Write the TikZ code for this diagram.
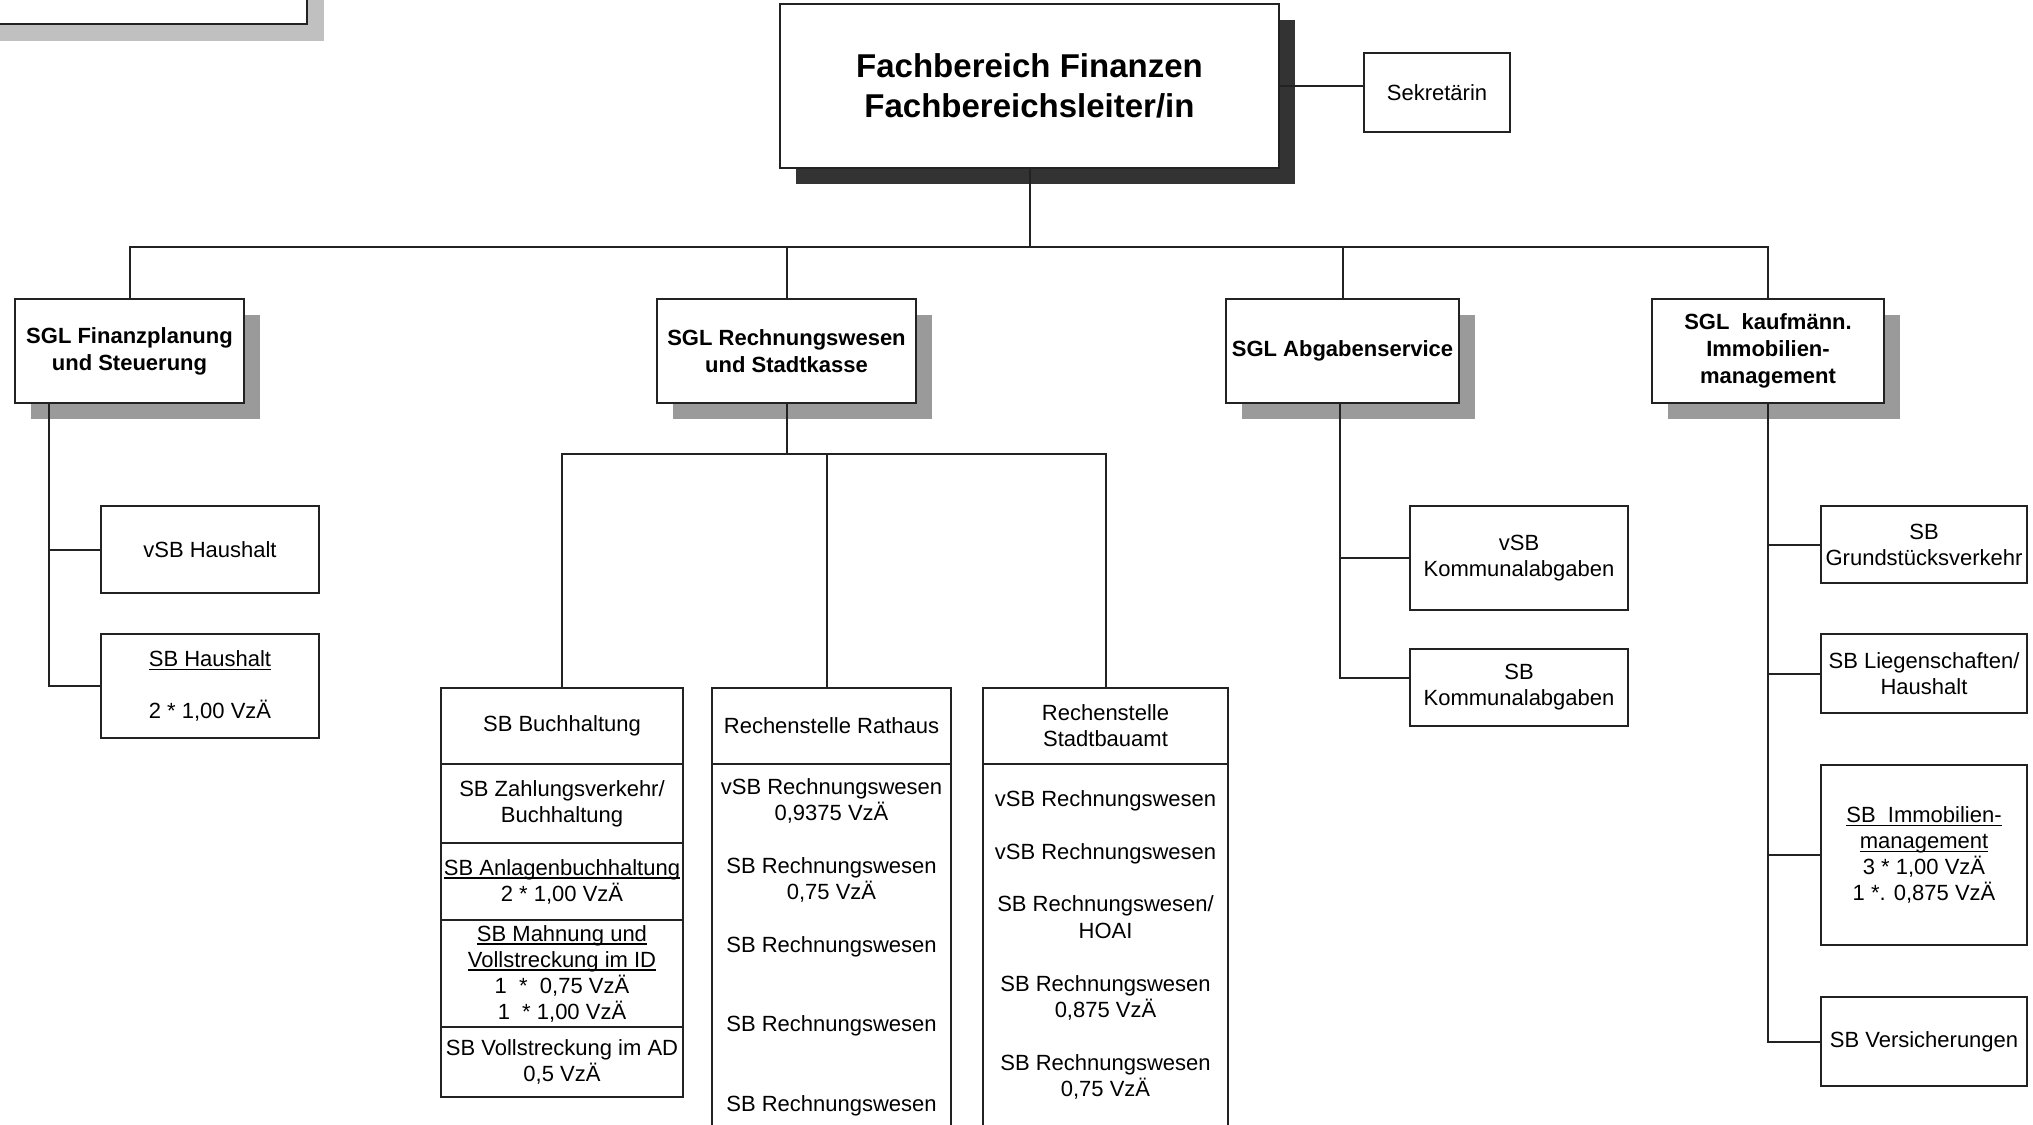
\documentclass[tikz,border=0pt]{standalone}
\usepackage{fontspec}
\setmainfont{Liberation Sans}
\usetikzlibrary{shadows}

\definecolor{linegray}{HTML}{222222}
\definecolor{darkshadow}{HTML}{333333}
\definecolor{midshadow}{HTML}{9A9A9A}
\definecolor{paleshadow}{HTML}{C0C0C0}

% underlined text with a rule of its own thickness
\newsavebox{\ulsave}
\newcommand{\ulined}[1]{\sbox{\ulsave}{#1}\rlap{\rule[-3.5pt]{\wd\ulsave}{1.4pt}}\usebox{\ulsave}}

\tikzset{
  orgbox/.style={draw=linegray, line width=2pt, fill=white, inner sep=0pt, outer sep=0pt,
    align=center, font=\fontsize{22}{26}\selectfont},
  sglbox/.style={orgbox, font=\fontsize{22}{27}\selectfont\bfseries,
    drop shadow={shadow xshift=16pt, shadow yshift=-16pt, fill=midshadow, opacity=1}},
  chefbox/.style={orgbox, font=\fontsize{33}{40}\selectfont\bfseries,
    drop shadow={shadow xshift=16pt, shadow yshift=-16pt, fill=darkshadow, opacity=1}},
  bodytext/.style={inner sep=0pt, align=center, font=\fontsize{22}{26.4}\selectfont},
  conn/.style={draw=linegray, line width=2pt}
}

\begin{document}
\begin{tikzpicture}[x=1pt, y=-1pt]
  \useasboundingbox (0,0) rectangle (2033,1124);
  \clip (0,0) rectangle (2033,1124);
  \fill[white] (0,0) rectangle (2033,1124);

  % box cut off at the upper left corner
  \fill[paleshadow] (-30,-30) rectangle (324,41);
  \draw[linegray, line width=2.2pt, fill=white] (-30,-30) rectangle (307,24);

  % head of department
  \node[chefbox, minimum width=499, minimum height=164] (chef) at (1029.5,86) {Fachbereich Finanzen\\Fachbereichsleiter/in};
  \node[orgbox, minimum width=146, minimum height=79] (sek) at (1437,92.5) {Sekretärin};
  \draw[conn] (chef.east) -- (chef.east -| sek.west);

  % SGL row
  \node[sglbox, minimum width=229, minimum height=104] (fin) at (129.5,351) {SGL Finanzplanung\\und Steuerung};
  \node[sglbox, minimum width=259, minimum height=104] (rw) at (786.5,351) {SGL Rechnungswesen\\und Stadtkasse};
  \node[sglbox, minimum width=233, minimum height=104] (abg) at (1342.5,351) {SGL Abgabenservice};
  \node[sglbox, minimum width=232, minimum height=104] (kauf) at (1768,351) {SGL\ \ kaufmänn.\\Immobilien-\\management};

  \draw[conn] (chef.south) -- ++(0,79) coordinate (bus);
  \draw[conn] (fin.north) |- (bus) -| (kauf.north);
  \draw[conn] (rw.north) -- (rw.north |- bus);
  \draw[conn] (abg.north) -- (abg.north |- bus);

  % Finanzplanung und Steuerung
  \node[orgbox, minimum width=218, minimum height=87] (vsbh) at (210,549.5) {vSB Haushalt};
  \node[orgbox, minimum width=218, minimum height=104] (sbh) at (210,686) {\ulined{SB Haushalt}\\~\\2 * 1,00 VzÄ};
  \draw[conn] ([xshift=34pt]fin.south west) |- (vsbh.west);
  \draw[conn] ([xshift=34pt]fin.south west) |- (sbh.west);

  % Rechnungswesen und Stadtkasse
  \node[orgbox, minimum width=242, minimum height=76] (buch) at (562,726) {SB Buchhaltung};
  \node[orgbox, minimum width=242, minimum height=79, anchor=north] (zahl) at (buch.south) {SB Zahlungsverkehr/\\Buchhaltung};
  \node[orgbox, minimum width=242, minimum height=77, anchor=north] (anl) at (zahl.south) {\ulined{SB Anlagenbuchhaltung}\\2 * 1,00 VzÄ};
  \node[orgbox, minimum width=242, minimum height=107, anchor=north] (mahn) at (anl.south) {\ulined{SB Mahnung und}\\\ulined{Vollstreckung im ID}\\1\ \ *\ \ 0,75 VzÄ\\1\ \ * 1,00 VzÄ};
  \node[orgbox, minimum width=242, minimum height=70, anchor=north] (vollad) at (mahn.south) {SB Vollstreckung im AD\\0,5 VzÄ};

  \node[orgbox, minimum width=239, minimum height=76] (rath) at (831.5,726) {Rechenstelle Rathaus};
  \node[orgbox, minimum width=239, minimum height=420, anchor=north] (rathbody) at (rath.south) {};
  \node[bodytext] (rathtxt) at (831.5,947) {vSB Rechnungswesen\\0,9375 VzÄ\\~\\SB Rechnungswesen\\0,75 VzÄ\\~\\SB Rechnungswesen\\~\\~\\SB Rechnungswesen\\~\\~\\SB Rechnungswesen};

  \node[orgbox, minimum width=245, minimum height=76] (stadt) at (1105.5,726) {Rechenstelle\\Stadtbauamt};
  \node[orgbox, minimum width=245, minimum height=420, anchor=north] (stadtbody) at (stadt.south) {};
  \node[bodytext] (stadttxt) at (1105.5,945) {vSB Rechnungswesen\\~\\vSB Rechnungswesen\\~\\SB Rechnungswesen/\\HOAI\\~\\SB Rechnungswesen\\0,875 VzÄ\\~\\SB Rechnungswesen\\0,75 VzÄ};

  \draw[conn] (rw.south) -- ++(0,51) coordinate (rwbus);
  \draw[conn] (buch.north) |- (rwbus) -| (stadt.north);
  \draw[conn] ([xshift=-5pt]rath.north) -- ([xshift=-5pt]rath.north |- rwbus);

  % Abgabenservice
  \node[orgbox, minimum width=218, minimum height=104] (vkom) at (1519,558) {vSB\\Kommunalabgaben};
  \node[orgbox, minimum width=218, minimum height=77] (skom) at (1519,687.5) {SB\\Kommunalabgaben};
  \draw[conn] ([xshift=-3pt]abg.south) |- (vkom.west);
  \draw[conn] ([xshift=-3pt]abg.south) |- ([yshift=10pt]skom.west);

  % kaufmaennisches Immobilienmanagement
  \node[orgbox, minimum width=206, minimum height=77] (grund) at (1924,544.5) {SB\\Grundstücksverkehr};
  \node[orgbox, minimum width=206, minimum height=79] (lieg) at (1924,673.5) {SB Liegenschaften/\\Haushalt};
  \node[orgbox, minimum width=206, minimum height=180] (immo) at (1924,855) {\ulined{SB\ \ Immobilien-}\\\ulined{management}\\3 * 1,00 VzÄ\\1 *. 0,875 VzÄ};
  \node[orgbox, minimum width=206, minimum height=89] (vers) at (1924,1041.5) {SB Versicherungen};
  \draw[conn] (kauf.south) |- (grund.west);
  \draw[conn] (kauf.south) |- (lieg.west);
  \draw[conn] (kauf.south) |- (immo.west);
  \draw[conn] (kauf.south) |- (vers.west);
\end{tikzpicture}
\end{document}
